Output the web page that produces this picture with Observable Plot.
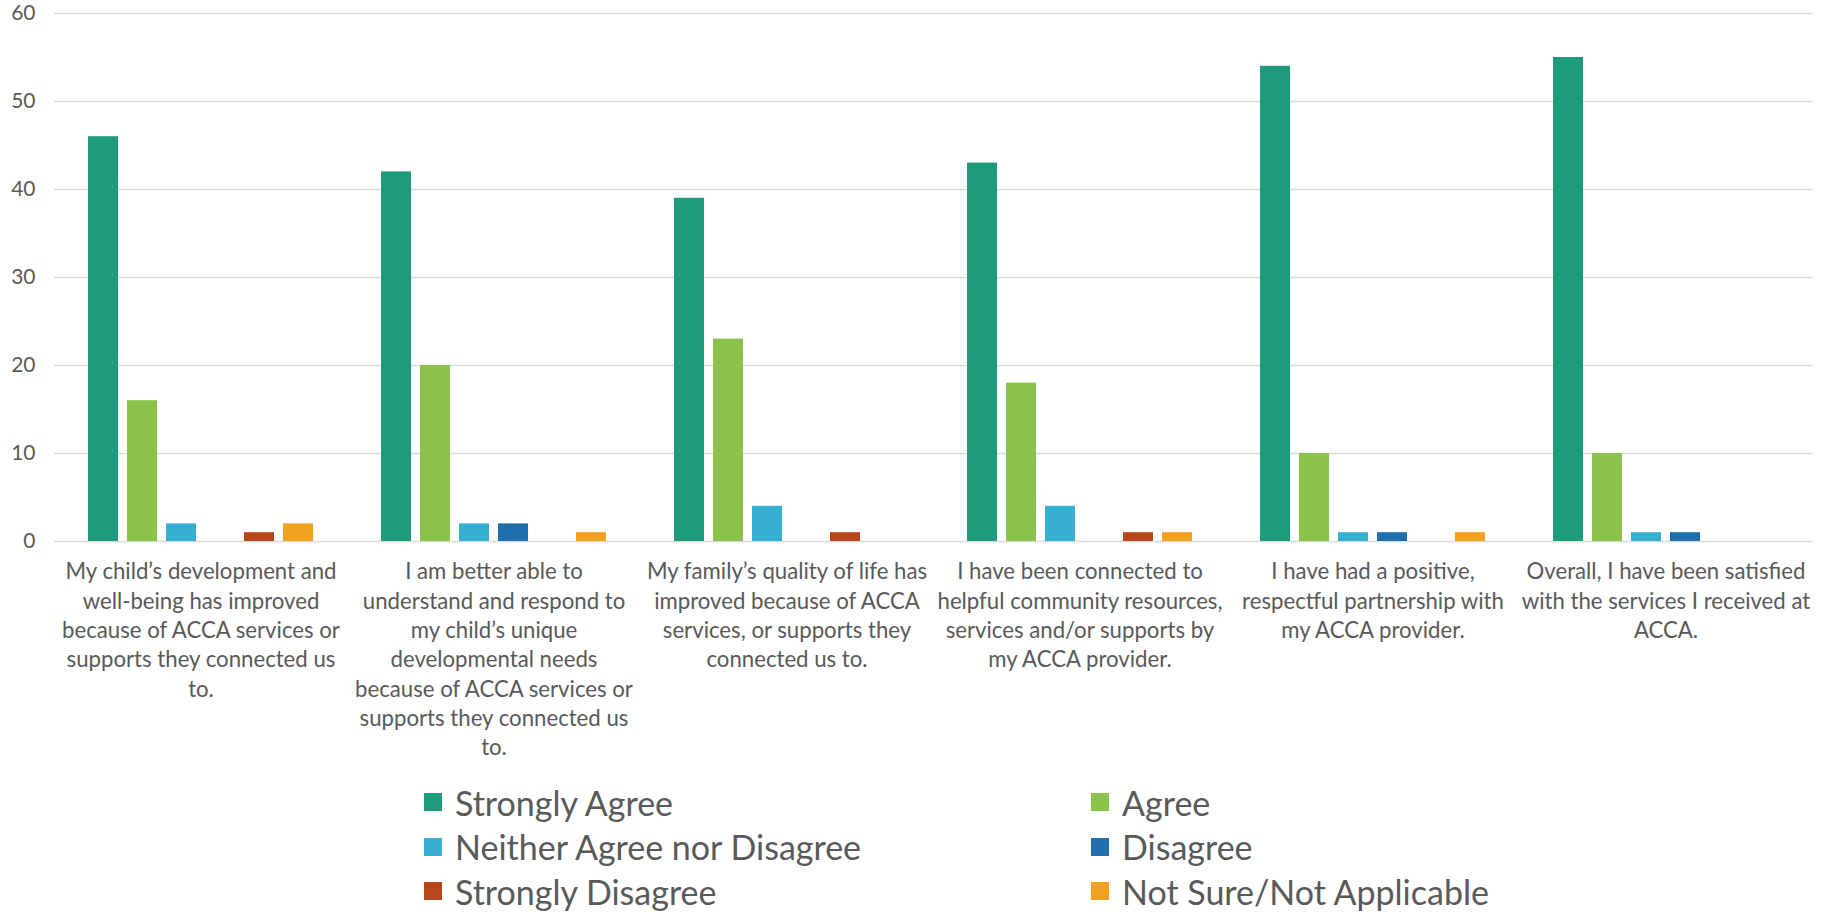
<!DOCTYPE html>
<html>
<head>
<meta charset="utf-8">
<script src="https://cdn.jsdelivr.net/npm/d3@7"></script>
<script src="https://cdn.jsdelivr.net/npm/@observablehq/plot@0.6"></script>
<style>
  html, body { margin: 0; padding: 0; background: #fff; }
  body { font-family: Lato, "Open Sans", sans-serif; color: #595959; width: 1835px; }
  #legend {
    position: relative; width: 1835px; height: 135px;
    display: grid; grid-template-columns: 667px 667px;
    grid-auto-rows: 44.5px; padding-left: 424px; box-sizing: border-box; padding-top: 0px;
  }
  .item { display: flex; align-items: center; gap: 13px; font-size: 34px; color: #595959; white-space: nowrap; }
  .sw { width: 18px; height: 18px; flex: none; }
</style>
</head>
<body>
<div id="chart"></div>
<div id="legend"></div>
<script>
const categories = [
  "My child’s development and\nwell-being has improved\nbecause of ACCA services or\nsupports they connected us\nto.",
  "I am better able to\nunderstand and respond to\nmy child’s unique\ndevelopmental needs\nbecause of ACCA services or\nsupports they connected us\nto.",
  "My family’s quality of life has\nimproved because of ACCA\nservices, or supports they\nconnected us to.",
  "I have been connected to\nhelpful community resources,\nservices and/or supports by\nmy ACCA provider.",
  "I have had a positive,\nrespectful partnership with\nmy ACCA provider.",
  "Overall, I have been satisfied\nwith the services I received at\nACCA."
];
const series = ["Strongly Agree", "Agree", "Neither Agree nor Disagree", "Disagree", "Strongly Disagree", "Not Sure/Not Applicable"];
const colors = ["#1f9a7a", "#8bc249", "#36afd0", "#1e6fab", "#b6471a", "#f2a01f"];
const stronglyAgree    = [46, 42, 39, 43, 54, 55];
const agree            = [16, 20, 23, 18, 10, 10];
const neither          = [2, 2, 4, 4, 1, 1];
const disagree         = [0, 2, 0, 0, 1, 1];
const stronglyDisagree = [1, 0, 1, 1, 0, 0];
const notSure          = [2, 1, 0, 1, 1, 0];
const yTicks = [0, 10, 20, 30, 40, 50, 60];

const valuesBySeries = [stronglyAgree, agree, neither, disagree, stronglyDisagree, notSure];
const data = categories.flatMap((c, i) => series.map((s, j) => ({category: c, series: s, value: valuesBySeries[j][i]})));

const chart = Plot.plot({
  width: 1835, height: 780,
  marginTop: 13, marginBottom: 239, marginLeft: 54, marginRight: 23,
  style: {fontFamily: "Lato, 'Open Sans', sans-serif", color: "#595959", background: "#fff"},
  fx: {domain: categories, padding: 0, label: null},
  x: {domain: series, paddingInner: 0.22, paddingOuter: 0.85, axis: null},
  y: {domain: [0, 60], ticks: yTicks, label: null},
  color: {domain: series, range: colors},
  marks: [
    Plot.gridY(yTicks, {stroke: "#d9d9d9", strokeOpacity: 1, strokeWidth: 1.5}),
    Plot.barY(data, {fx: "category", x: "series", y: "value", fill: "series"}),
    Plot.axisY(yTicks, {tickSize: 0, tickPadding: 19, fontSize: 21, label: null, fill: "#595959"}),
    Plot.axisFx({anchor: "bottom", tickSize: 0, tickPadding: 17, fontSize: 22.2, lineHeight: 1.32, label: null, fill: "#595959"})
  ]
});
document.getElementById("chart").appendChild(chart);

const legend = document.getElementById("legend");
series.forEach((s, j) => {
  const item = document.createElement("div");
  item.className = "item";
  const sw = document.createElement("span");
  sw.className = "sw";
  sw.style.background = colors[j];
  const label = document.createElement("span");
  label.textContent = s;
  item.appendChild(sw);
  item.appendChild(label);
  legend.appendChild(item);
});
</script>
</body>
</html>
